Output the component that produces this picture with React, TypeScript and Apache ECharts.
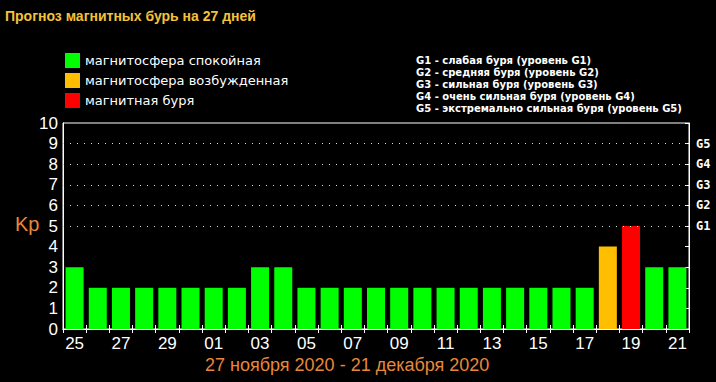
import React, { useEffect, useRef } from "react";
import * as echarts from "echarts";

const days = ["25","26","27","28","29","30","01","02","03","04","05","06","07","08","09","10","11","12","13","14","15","16","17","18","19","20","21"];
const kpValues = [3,2,2,2,2,2,2,2,3,3,2,2,2,2,2,2,2,2,2,2,2,2,2,4,5,3,3];
const yTicks = [0,1,2,3,4,5,6,7,8,9,10];
const gKp = [5,6,7,8,9];
const gLabels = ["G1","G2","G3","G4","G5"];
const gDescriptions = [
  "G1 - слабая буря (уровень G1)",
  "G2 - средняя буря (уровень G2)",
  "G3 - сильная буря (уровень G3)",
  "G4 - очень сильная буря (уровень G4)",
  "G5 - экстремально сильная буря (уровень G5)",
];
const legendNames = ["магнитосфера спокойная", "магнитосфера возбужденная", "магнитная буря"];
const legendColors = ["#00ff00", "#ffbf00", "#ff0000"];
const titleText = "Прогноз магнитных бурь на 27 дней";
const periodText = "27 ноября 2020 - 21 декабря 2020";

export default function App() {
  const ref = useRef<HTMLDivElement>(null);
  useEffect(() => {
    document.body.style.margin = "0";
    document.body.style.background = "#000";
    const chart = echarts.init(ref.current!, null, { renderer: "svg" });
    const calm = kpValues.map((v) => (v < 4 ? v : null));
    const excited = kpValues.map((v) => (v === 4 ? v : null));
    const storm = kpValues.map((v) => (v >= 5 ? v : null));
    const seriesData = [calm, excited, storm];
    const narrow = "'Liberation Sans Narrow', 'Liberation Sans', sans-serif";
    chart.setOption({
      animation: false,
      backgroundColor: "#000",
      title: {
        text: titleText,
        left: 0,
        top: 4,
        textStyle: { color: "#f2c33a", fontSize: 14, fontWeight: "bold", fontFamily: "'Liberation Sans', sans-serif" },
      },
      legend: {
        orient: "vertical",
        left: 60,
        top: 48,
        itemWidth: 15,
        itemHeight: 15,
        itemGap: 5,
        icon: "rect",
        selectedMode: false,
        textStyle: { color: "#fff", fontSize: 13, fontFamily: "'DejaVu Sans', sans-serif" },
        data: legendNames,
      },
      grid: {
        left: 63,
        right: 27,
        top: 123,
        bottom: 53,
        show: true,
        borderColor: "#fff",
        borderWidth: 1,
        backgroundColor: "#000",
      },
      xAxis: [
        {
          type: "category",
          data: days,
          position: "bottom",
          axisLine: { lineStyle: { color: "#fff" } },
          axisTick: { show: true, inside: true, length: 4, interval: 0, lineStyle: { color: "#fff" } },
          axisLabel: { interval: 1, color: "#fff", fontSize: 17, margin: 6, fontFamily: narrow },
        },
        {
          type: "category",
          data: days,
          position: "top",
          axisLine: { lineStyle: { color: "#fff" } },
          axisTick: { show: true, inside: true, length: 4, interval: 0, lineStyle: { color: "#fff" } },
          axisLabel: { show: false },
        },
      ],
      yAxis: [
        {
          type: "value",
          min: yTicks[0],
          max: yTicks[yTicks.length - 1],
          interval: 1,
          position: "left",
          axisLine: { show: true, lineStyle: { color: "#fff" } },
          axisTick: { show: false },
          splitLine: { show: false },
          axisLabel: { color: "#fff", fontSize: 17, margin: 5, fontFamily: "'Liberation Sans', sans-serif" },
        },
        {
          type: "value",
          min: yTicks[0],
          max: yTicks[yTicks.length - 1],
          interval: 1,
          position: "right",
          axisLine: { show: true, lineStyle: { color: "#fff" } },
          axisTick: { show: true, inside: true, length: 4, lineStyle: { color: "#fff" } },
          splitLine: { show: false },
          axisLabel: {
            color: "#fff",
            fontSize: 12,
            fontWeight: "bold",
            margin: 7,
            fontFamily: "'DejaVu Sans Mono', monospace",
            formatter: (v: number) => {
              const i = gKp.indexOf(v);
              return i >= 0 ? gLabels[i] : "";
            },
          },
        },
      ],
      series: legendNames.map((name, i) => ({
        name,
        type: "bar",
        stack: "kp",
        barWidth: 18,
        data: seriesData[i],
        itemStyle: { color: legendColors[i] },
        markLine:
          i === 0
            ? {
                silent: true,
                symbol: ["none", "none"],
                label: { show: false },
                lineStyle: { color: "#ddd", type: [1, 6], width: 1 },
                data: gKp.map((v) => ({ yAxis: v })),
              }
            : undefined,
      })),
      graphic: [
        {
          type: "text",
          left: 15,
          top: 214,
          style: { text: "Kp", fill: "#e8873a", fontSize: 20, fontFamily: "'Liberation Sans', sans-serif" },
        },
        {
          type: "text",
          left: 416,
          top: 54,
          style: {
            text: gDescriptions.join("\n"),
            fill: "#fff",
            fontSize: 10,
            fontWeight: "bold",
            lineHeight: 12,
            fontFamily: "'DejaVu Sans', sans-serif",
          },
        },
        {
          type: "text",
          left: 205,
          top: 356,
          style: { text: periodText, fill: "#e8873a", fontSize: 18, fontFamily: narrow },
        },
      ],
    });
    return () => chart.dispose();
  }, []);
  return <div ref={ref} style={{ position: "absolute", left: 0, top: 0, width: 716, height: 382, background: "#000" }} />;
}
